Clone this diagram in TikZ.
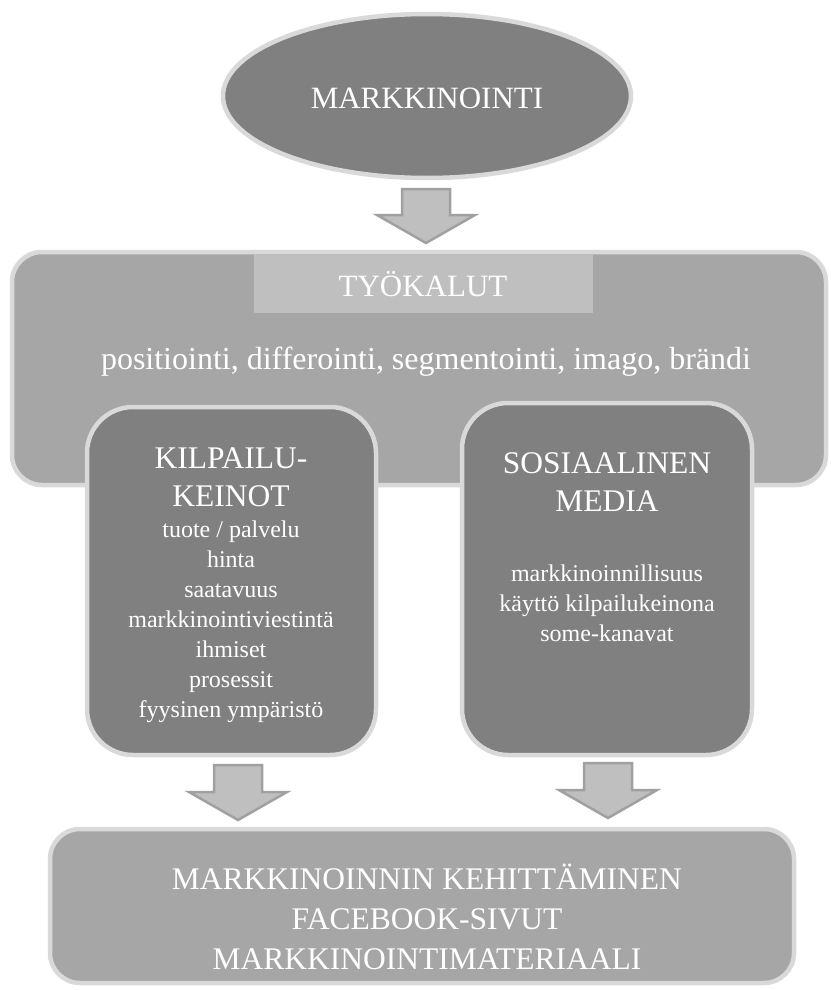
\documentclass[tikz,border=0pt]{standalone}
\usepackage{fontspec}
\setmainfont{Liberation Serif}
\usetikzlibrary{shapes.geometric}
\definecolor{darkfill}{HTML}{808080}
\definecolor{midfill}{HTML}{A6A6A6}
\definecolor{lightfill}{HTML}{BFBFBF}
\definecolor{rim}{HTML}{D9D9D9}
\definecolor{arrowrim}{HTML}{A0A0A0}
\begin{document}
\begin{tikzpicture}[x=1pt,y=-1pt,
  rimbox/.style={draw=rim, line width=4.5pt},
  bigtxt/.style={text=white, font=\fontsize{31}{38}\selectfont, align=center, inner sep=0pt},
  smalltxt/.style={text=white, font=\fontsize{24}{30}\selectfont, align=center, inner sep=0pt},
  blockarrow/.style={fill=lightfill, draw=arrowrim, line width=2.5pt, line join=miter}]
\useasboundingbox (0,0) rectangle (830,990);
\fill[white] (0,0) rectangle (830,990);
% ellipse
\draw[rimbox, fill=darkfill] (427,96) ellipse [x radius=204, y radius=82];
\node[bigtxt] (mark) at (427,98) {MARKKINOINTI};
% block arrow macro: x, top, base, tip
\newcommand\barrow[4]{%
  \draw[blockarrow] (#1-24,#2) -- (#1+24,#2) -- (#1+24,#3) -- (#1+49,#3) -- (#1,#4) -- (#1-49,#3) -- (#1-24,#3) -- cycle;}
\barrow{426}{189}{215}{243}
% big box
\draw[rimbox, fill=midfill, rounded corners=30pt] (12,252) rectangle (826,485);
\fill[lightfill] (254,254) rectangle (593,313);
\node[bigtxt] (tyokalut) at (423,284) {TYÖKALUT};
\node[bigtxt, font=\fontsize{32}{38}\selectfont] (pos) at (426,362) {positiointi, differointi, segmentointi, imago, brändi};
% sub boxes
\draw[rimbox, fill=darkfill, rounded corners=46pt] (87,407) rectangle (376,755);
\draw[rimbox, fill=darkfill, rounded corners=46pt] (462,403) rectangle (752,755);
\node[bigtxt, font=\fontsize{31.5}{38}\selectfont] (kilp) at (231,477) {KILPAILU-\\KEINOT};
\node[smalltxt] (kilplist) at (231,622) {tuote / palvelu\\hinta\\saatavuus\\markkinointiviestintä\\ihmiset\\prosessit\\fyysinen ympäristö};
\node[bigtxt, font=\fontsize{31.5}{38}\selectfont] (some) at (607,482) {SOSIAALINEN\\MEDIA};
\node[smalltxt] (somelist) at (607,603) {markkinoinnillisuus\\käyttö kilpailukeinona\\some-kanavat};
% arrows 2,3
\barrow{238}{765}{792}{820}
\barrow{608}{763}{790}{818}
% bottom box
\draw[rimbox, fill=midfill, rounded corners=30pt] (50,829) rectangle (794,983);
\node[bigtxt, font=\fontsize{31.5}{40}\selectfont] (kehit) at (427,917) {MARKKINOINNIN KEHITTÄMINEN\\FACEBOOK-SIVUT\\MARKKINOINTIMATERIAALI};
\end{tikzpicture}
\end{document}
